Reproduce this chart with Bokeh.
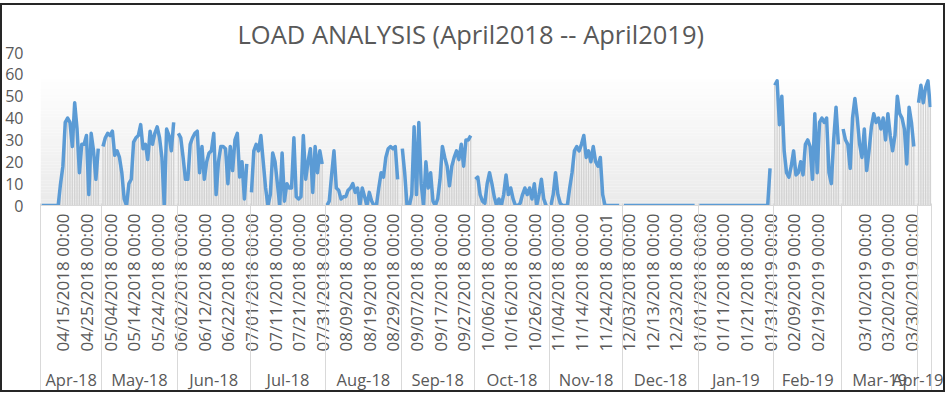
import math
from bokeh.plotting import figure
from bokeh.models import FixedTicker, BoxAnnotation, ColumnDataSource, LinearAxis, Range1d
from bokeh.embed import file_html
from bokeh.resources import INLINE

TITLE = "LOAD ANALYSIS (April2018 -- April2019)"

MONTH_LABELS = ["Apr-18", "May-18", "Jun-18", "Jul-18", "Aug-18", "Sep-18",
                "Oct-18", "Nov-18", "Dec-18", "Jan-19", "Feb-19", "Mar-19", "Apr-19"]

# daily load values (Apr-18 starts on 04/06/2018)
APR18 = [0, 0, 0, 0, 0, 0, 0, 0, 10, 18, 38, 40, 38, 27, 47, 35, 15, 28, 28, 32,
         5, 33, 25, 12, 26]
MAY18 = [27, 31, 33, 32, 34, 23, 25, 22, 15, 3, 0, 10, 12, 29, 31, 32, 37, 26, 28, 21,
         34, 28, 33, 36, 31, 22, 0, 35, 32, 25, 38]
JUN18 = [33, 31, 22, 12, 12, 28, 31, 33, 34, 15, 27, 12, 20, 24, 25, 33, 5, 20, 27, 27,
         26, 10, 27, 16, 30, 33, 13, 20, 3, 19]
JUL18 = [6, 25, 28, 25, 32, 20, 8, 0, 5, 24, 20, 10, 0, 24, 2, 10, 8, 8, 31, 4,
         3, 4, 32, 12, 20, 26, 6, 27, 15, 25, 19]
AUG18 = [0, 2, 14, 25, 8, 7, 3, 4, 4, 7, 8, 10, 6, 8, 0, 8, 4, 0, 6, 2,
         0, 0, 8, 15, 13, 22, 26, 27, 26, 27, 12]
SEP18 = [26, 15, 0, 0, 5, 36, 5, 38, 10, 0, 20, 8, 15, 2, 0, 3, 12, 27, 22, 18,
         9, 18, 22, 25, 21, 28, 18, 30, 30, 32]
OCT18 = [12, 13, 5, 2, 1, 10, 15, 10, 4, 0, 3, 0, 5, 14, 5, 8, 3, 0, 0, 1,
         5, 8, 5, 8, 3, 10, 0, 5, 12, 3, 0]
NOV18 = [0, 5, 15, 5, 1, 0, 0, 0, 8, 15, 25, 27, 25, 28, 32, 22, 25, 20, 27, 20,
         18, 22, 5, 0, 0, 0, 0, 0, 0, 0]
DEC18 = [0] * 31
JAN19 = [0] * 30 + [17]
FEB19 = [55, 57, 37, 50, 25, 15, 13, 18, 25, 14, 15, 20, 14, 28, 30, 27, 12, 42, 15, 38,
         40, 38, 40, 15, 10, 30, 45, 28]
MAR19 = [35, 30, 28, 17, 40, 49, 40, 28, 22, 35, 16, 25, 36, 42, 38, 40, 35, 40, 30, 42,
         32, 25, 32, 50, 42, 40, 35, 19, 45, 38, 27]
APR19 = [47, 55, 47, 54, 57, 45]

MONTH_VALUES = [APR18, MAY18, JUN18, JUL18, AUG18, SEP18, OCT18, NOV18,
                DEC18, JAN19, FEB19, MAR19, APR19]

# every 10th category is labelled ("" = unlabelled slot)
TICK_LABELS = [
    "04/15/2018 00:00", "04/25/2018 00:00", "05/04/2018 00:00", "05/14/2018 00:00",
    "05/24/2018 00:00", "06/02/2018 00:00", "06/12/2018 00:00", "06/22/2018 00:00",
    "07/01/2018 00:00", "07/11/2018 00:00", "07/21/2018 00:00", "07/31/2018 00:00",
    "08/09/2018 00:00", "08/19/2018 00:00", "08/29/2018 00:00", "09/07/2018 00:00",
    "09/17/2018 00:00", "09/27/2018 00:00", "10/06/2018 00:00", "10/16/2018 00:00",
    "10/26/2018 00:00", "11/04/2018 00:00", "11/14/2018 00:00", "11/24/2018 00:01",
    "12/03/2018 00:00", "12/13/2018 00:00", "12/23/2018 00:00", "01/01/2018 00:00",
    "01/11/2018 00:00", "01/21/2018 00:00", "01/31/2019 00:00", "02/09/2019 00:00",
    "02/19/2019 00:00", "", "03/10/2019 00:00", "03/20/2019 00:00", "03/30/2019 00:00",
]
Y_TICKS = [0, 10, 20, 30, 40, 50, 60, 70]

# ---- build category index; a blank row closes every month (except the last) ----
xs, ys = [], []
month_centers, month_bounds = [], [-0.5]
idx = 0
for m, vals in enumerate(MONTH_VALUES):
    rows = list(vals) + ([float("nan")] if m < len(MONTH_VALUES) - 1 else [])
    start = idx
    for v in rows:
        xs.append(idx)
        ys.append(v)
        idx += 1
    month_centers.append(start + (len(rows) - 1) / 2.0)
    month_bounds.append(idx - 0.5)
N = idx

tick_pos, tick_over = [], {}
for j, lab in enumerate(TICK_LABELS):
    if lab:
        pos = 10 * (j + 1) - 1
        tick_pos.append(pos)
        tick_over[pos] = lab

src = ColumnDataSource(data=dict(x=xs, y=ys))

FONT = "Open Sans"
GREY = "#595959"

p = figure(width=945, height=389, output_backend="svg", toolbar_location=None,
           x_range=Range1d(-0.5, N - 0.5), y_range=Range1d(0, 70),
           min_border_left=38, min_border_right=16, min_border_top=47,
           min_border_bottom=189, x_axis_location=None)
p.styles = {"border": "2px solid #262626", "margin-top": "3px"}

p.title.text = TITLE
p.title.text_font = FONT
p.title.text_font_size = "25.5px"
p.title.text_font_style = "normal"
p.title.text_color = GREY
p.title.align = "left"
p.title.offset = 197
p.title.standoff = 3

p.outline_line_color = None
p.xgrid.visible = False
p.ygrid.visible = False
p.background_fill_color = "white"
p.border_fill_color = "white"

# soft vertical gradient of the plot area
n_b = 40
top_v = 58.0
for j in range(n_b):
    t = j / (n_b - 1)
    c = int(round(234 + (254 - 234) * t))
    p.add_layout(BoxAnnotation(bottom=top_v * j / n_b, top=top_v * (j + 1) / n_b,
                               fill_color=f"#{c:02x}{c:02x}{c:02x}", fill_alpha=1.0,
                               line_color=None, level="underlay"))

p.vbar(x="x", top="y", width=0.55, source=src, fill_color="#d2d2d2",
       line_color=None)
p.line(x="x", y="y", source=src, line_color="#5b9bd5", line_width=3.5,
       line_join="round")

ya = p.yaxis[0]
ya.ticker = FixedTicker(ticks=Y_TICKS)
ya.axis_line_color = None
ya.major_tick_line_color = None
ya.major_tick_out = 0
ya.major_tick_in = 0
ya.minor_tick_line_color = None
ya.minor_tick_out = 0
ya.minor_tick_in = 0
ya.major_label_text_font = FONT
ya.major_label_text_font_size = "16px"
ya.major_label_text_color = GREY
ya.major_label_standoff = 17

# date labels
xa = LinearAxis(ticker=FixedTicker(ticks=tick_pos), major_label_overrides=tick_over)
xa.axis_line_color = "#d9d9d9"
xa.major_tick_line_color = None
xa.major_tick_out = 0
xa.major_tick_in = 0
xa.minor_tick_line_color = None
xa.minor_tick_out = 0
xa.minor_tick_in = 0
xa.major_label_orientation = math.pi / 2
xa.major_label_text_font = FONT
xa.major_label_text_font_size = "17px"
xa.major_label_text_color = GREY
xa.major_label_standoff = 8
p.add_layout(xa, "below")

# month group labels; month separators are its minor ticks (reaching up to the axis line)
ma = LinearAxis(ticker=FixedTicker(ticks=month_centers, minor_ticks=month_bounds),
                major_label_overrides={c: l for c, l in zip(month_centers, MONTH_LABELS)})
ma.axis_line_color = None
ma.major_tick_line_color = None
ma.major_tick_out = 0
ma.major_tick_in = 0
ma.minor_tick_line_color = "#d9d9d9"
ma.minor_tick_line_width = 1
ma.minor_tick_in = 151
ma.minor_tick_out = 38
ma.major_label_text_font = FONT
ma.major_label_text_font_size = "16.5px"
ma.major_label_text_color = GREY
ma.major_label_standoff = -25
p.add_layout(ma, "below")

open("out.html", "w").write(file_html(p, INLINE))
